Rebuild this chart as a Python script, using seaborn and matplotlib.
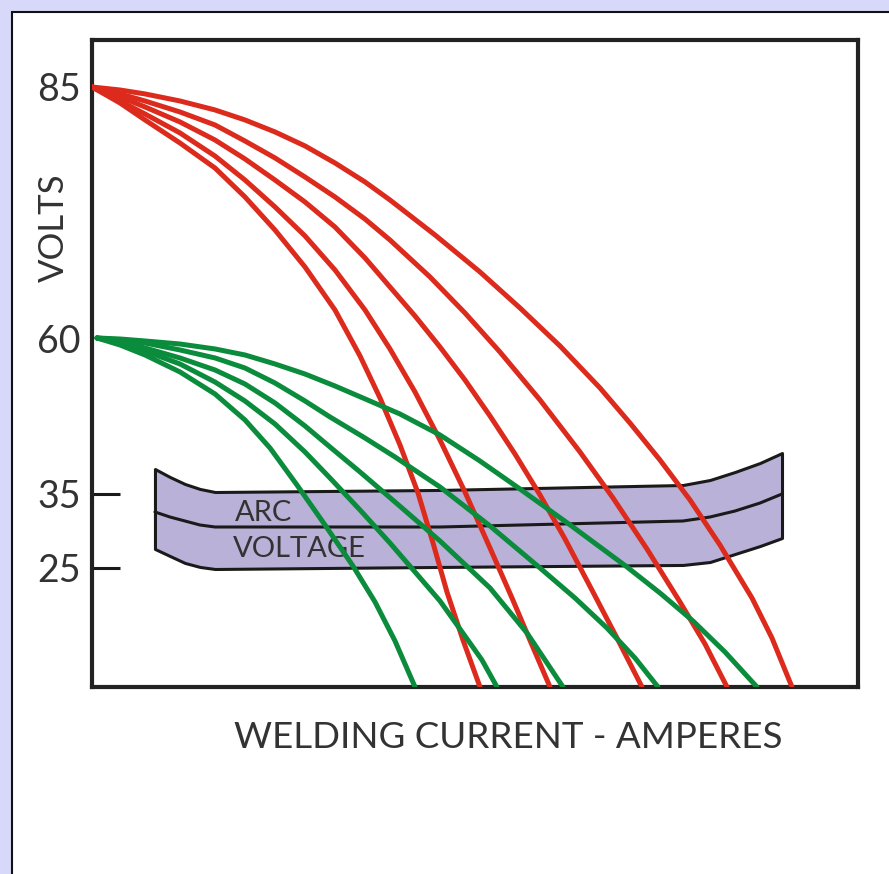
import numpy as np
import pandas as pd
import matplotlib
matplotlib.use('Agg')
import matplotlib.pyplot as plt
from matplotlib.patches import Rectangle
import seaborn as sns

# curves; current is in arbitrary units (0-100 across the box)
red_amps = [
    [0, 3.66, 6.92, 11.49, 16.06, 19.97, 23.89, 27.81, 31.72, 34.99, 37.60, 40.21, 42.56, 44.52, 46.34, 48.43, 50.65],
    [0, 3.66, 6.92, 11.49, 16.06, 19.97, 23.89, 27.81, 31.72, 35.64, 38.90, 42.17, 45.43, 48.69, 51.96, 54.83, 57.44, 59.79],
    [0, 3.66, 6.92, 11.49, 16.06, 19.97, 23.89, 27.81, 31.72, 35.64, 38.90, 42.17, 45.43, 48.69, 51.96, 55.22, 58.49,
     61.75, 65.40, 68.67, 71.80],
    [0, 3.66, 6.92, 11.49, 16.06, 19.97, 23.89, 27.81, 31.72, 35.64, 38.90, 44.13, 48.69, 53.26, 58.49, 63.71, 68.02,
     72.45, 76.76, 80.03, 82.90],
    [0, 3.66, 6.92, 11.49, 16.06, 19.97, 23.89, 27.81, 31.72, 35.64, 38.90, 44.78, 50.65, 55.87, 61.10, 66.32, 70.23,
     74.15, 78.07, 81.98, 86.16, 88.77, 91.38],
]
red_volts = [
    [85, 83.41, 81.73, 79.44, 76.96, 74.09, 70.81, 67.14, 62.88, 57.26, 50.48, 42.90, 35.16, 28.38, 19.96, 9.87, 0],
    [85, 83.61, 82.32, 80.44, 78.15, 75.77, 73.10, 70.22, 66.85, 62.88, 58.39, 51.45, 43.71, 35.32, 27.70, 18.70, 8.82, 0],
    [85, 84.01, 83.02, 81.53, 79.74, 77.86, 75.77, 73.59, 71.11, 68.04, 65.16, 62.28, 58.71, 53.39, 47.58, 41.45, 34.86,
     28.92, 19.96, 9.87, 0],
    [85, 84.31, 83.61, 82.52, 81.23, 79.64, 77.96, 76.07, 74.09, 71.90, 69.82, 66.15, 62.58, 57.90, 50.16, 41.77, 34.46,
     27.57, 17.86, 9.03, 0],
    [85, 84.70, 84.31, 83.61, 82.72, 81.73, 80.54, 79.15, 77.46, 75.58, 73.79, 70.32, 66.65, 63.08, 58.87, 52.10, 46.45,
     40.48, 34.19, 28.11, 18.70, 10.29, 0],
]
green_amps = [
    [0.65, 3.66, 6.92, 11.49, 16.06, 19.97, 23.24, 26.76, 30.42, 34.07, 36.95, 39.56, 42.17],
    [0.65, 3.66, 6.92, 11.49, 16.06, 19.97, 23.89, 27.81, 31.07, 34.99, 38.90, 42.17, 45.43, 48.69, 50.91, 52.87],
    [0.65, 3.66, 6.92, 11.49, 16.06, 19.97, 23.89, 27.81, 31.07, 34.99, 39.56, 45.43, 51.96, 56.79, 61.49],
    [0.65, 3.66, 6.92, 11.49, 16.06, 19.97, 23.89, 27.81, 31.07, 35.64, 39.56, 45.43, 51.96, 58.49, 63.05, 67.23,
     70.89, 73.89],
    [0.65, 3.66, 6.92, 11.49, 16.06, 19.97, 23.89, 27.81, 31.72, 35.38, 40.21, 45.43, 50.65, 55.87, 62.79, 69.84,
     74.15, 78.46, 82.64, 86.81],
]
green_volts = [
    [60.10, 59.03, 57.42, 54.68, 51.13, 46.94, 42.42, 36.45, 30.81, 25.27, 17.86, 9.66, 0],
    [60.10, 59.35, 58.06, 55.97, 53.06, 50.00, 46.29, 41.77, 37.58, 32.84, 28.38, 24.16, 18.07, 10.71, 5.67, 0],
    [60.10, 59.52, 58.55, 56.94, 55.00, 52.74, 49.68, 45.97, 42.58, 38.55, 33.92, 28.65, 20.80, 11.34, 0],
    [60.10, 59.84, 59.35, 58.23, 56.94, 55.32, 52.90, 50.00, 47.42, 44.03, 40.97, 36.13, 30.68, 25.0, 18.70, 12.39,
     6.09, 0],
    [60.10, 60.0, 59.68, 59.19, 58.39, 57.42, 55.97, 54.35, 52.42, 50.48, 47.90, 44.52, 40.32, 35.81, 30.54, 25.14,
     19.75, 13.87, 7.35, 0],
]

# arc voltage band
band_amps = [8.22, 10.18, 12.14, 14.10, 16.06, 45.43, 77.15, 80.68, 83.94, 87.21, 90.08]
band_top = [39.03, 37.74, 36.61, 35.81, 35.32, 35.65, 36.45, 37.26, 38.55, 40.0, 41.61]
band_mid = [32.57, 31.89, 31.35, 30.81, 30.54, 30.54, 31.35, 31.89, 32.70, 33.78, 35.0]
band_low = [27.57, 26.62, 25.68, 25.14, 24.79, 25.14, 25.41, 25.81, 26.89, 27.97, 29.05]

tick_volts = [25, 35, 60, 85]
marked_volts = [25, 35]

# the drawing's volt axis is not linear
VOLT_KNOTS = [-10, 0, 25, 35, 60, 85, 95]
POS_KNOTS = [-47.6, 0, 119, 193, 348, 600, 700.8]


def fwd(v):
    return np.interp(v, VOLT_KNOTS, POS_KNOTS)


def inv(p):
    return np.interp(p, POS_KNOTS, VOLT_KNOTS)


rows = []
for i, (xs, ys) in enumerate(zip(red_amps, red_volts)):
    for x, y in zip(xs, ys):
        rows.append({'curve': f'r{i}', 'amps': x, 'volts': y})
for i, (xs, ys) in enumerate(zip(green_amps, green_volts)):
    for x, y in zip(xs, ys):
        rows.append({'curve': f'g{i}', 'amps': x, 'volts': y})
df = pd.DataFrame(rows)
palette = {c: ('#DC2A1C' if c.startswith('r') else '#0A8C3C') for c in df['curve'].unique()}

sns.set_style('white')
plt.rcParams['font.family'] = ['Lato', 'DejaVu Sans']

fig = plt.figure(figsize=(8.89, 8.74), dpi=100)
fig.patch.set_facecolor('#D8D8FA')
fig.patches.append(Rectangle((12 / 889, -0.1), 1.2, 1 - 12 / 874 + 0.1, transform=fig.transFigure,
                             facecolor='white', edgecolor='#111111', lw=1.5, zorder=-1))

ax = fig.add_axes([92 / 889, 1 - 687 / 874, 766 / 889, 647 / 874])
ax.set_facecolor('white')
ax.set_yscale('function', functions=(fwd, inv))
ax.set_xlim(0, 100)
ax.set_ylim(0, 89.66)

ax.fill_between(band_amps, band_low, band_top, facecolor='#B9B1D7', edgecolor='#1a1a1a', lw=2.2,
                joinstyle='round', zorder=1)
ax.plot(band_amps, band_mid, color='#1a1a1a', lw=2.2, solid_joinstyle='round', zorder=1.5)
ax.text(18.7, 32.4, 'ARC', fontsize=21, color='#333333', va='center', ha='left', zorder=2)
ax.text(18.4, 27.6, 'VOLTAGE', fontsize=21, color='#333333', va='center', ha='left', zorder=2)

sns.lineplot(data=df, x='amps', y='volts', hue='curve', palette=palette, sort=False,
             estimator=None, legend=False, lw=3.6, solid_joinstyle='round', ax=ax, zorder=3)

ax.set_xticks([])
ax.yaxis.remove_overlapping_locs = False
ax.set_yticks(tick_volts)
ax.set_yticklabels([str(t) for t in tick_volts])
ax.set_yticks(marked_volts, minor=True)
ax.tick_params(axis='y', which='major', length=0, pad=8, labelsize=27, labelcolor='#333333')
ax.tick_params(axis='y', which='minor', length=20, width=2.2, direction='in', color='#1a1a1a', left=True)
ax.set_xlabel('')
ax.set_ylabel('')
for s in ax.spines.values():
    s.set_color('#222222')
    s.set_linewidth(3)

fig.text(54 / 889, 1 - 228 / 874, 'VOLTS', rotation=90, fontsize=25,
         color='#333333', ha='center', va='center')
fig.text(508 / 889, 1 - 737 / 874, 'WELDING CURRENT - AMPERES', fontsize=26.5,
         color='#333333', ha='center', va='center')

fig.savefig('out.png', dpi=100, facecolor=fig.get_facecolor())
